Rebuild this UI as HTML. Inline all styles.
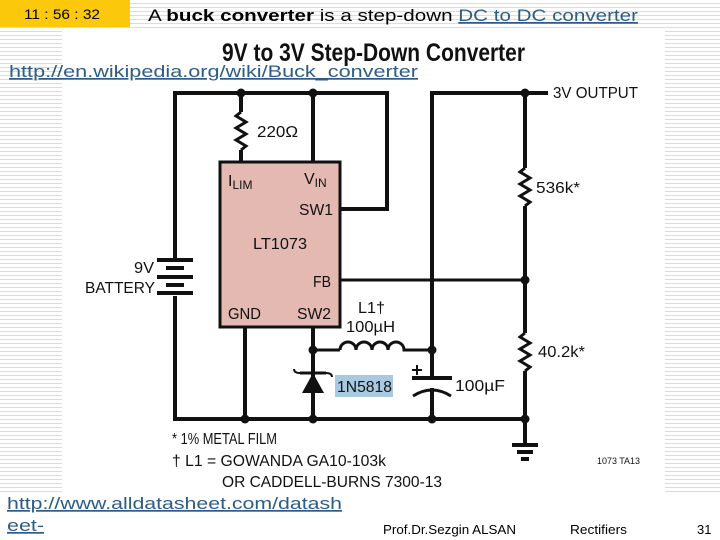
<!DOCTYPE html>
<html><head><meta charset="utf-8"><style>
html,body{margin:0;padding:0}
body{width:720px;height:540px;overflow:hidden;position:relative;background:#fff;font-family:"Liberation Sans",sans-serif}
.lines{position:absolute;left:0;top:0;width:720px;height:540px;background:repeating-linear-gradient(to bottom,#fff 0,#fff 3px,#dcdcdc 3px,#dcdcdc 4px)}
.img{position:absolute;left:62px;top:30px;width:603px;height:465px;background:#fff}
svg{position:absolute;left:0;top:0}
</style></head><body>
<div class="lines"></div>
<div class="img"></div>
<div style="position:absolute;left:0;top:0;width:130px;height:27px;background:#fcc80c"></div>
<div style="position:absolute;left:0;top:492px;width:720px;height:48px;background:#fff"></div>
<svg width="720" height="540" viewBox="0 0 720 540">
<g font-family="Liberation Sans, sans-serif" lengthAdjust="spacingAndGlyphs">
<text x="24" y="19" font-size="14" textLength="76" lengthAdjust="spacingAndGlyphs">11  : 56 : 32</text>
<text x="148" y="21" font-size="17" textLength="490" lengthAdjust="spacingAndGlyphs">A <tspan font-weight="bold">buck converter</tspan> is a step-down <tspan fill="#2c5c88" text-decoration="underline">DC to DC converter</tspan></text>
<text x="9" y="77" font-size="17" fill="#2c5c88" text-decoration="underline" textLength="409" lengthAdjust="spacingAndGlyphs">http://en.wikipedia.org/wiki/Buck_converter</text>
<text x="7" y="509" font-size="17" fill="#2c5c88" text-decoration="underline" textLength="335" lengthAdjust="spacingAndGlyphs">http://www.alldatasheet.com/datash</text>
<text x="7" y="531" font-size="17" fill="#2c5c88" text-decoration="underline" textLength="37" lengthAdjust="spacingAndGlyphs">eet-</text>
<text x="383" y="534" font-size="13" textLength="133" lengthAdjust="spacingAndGlyphs">Prof.Dr.Sezgin ALSAN</text>
<text x="570" y="534" font-size="13" textLength="57" lengthAdjust="spacingAndGlyphs">Rectifiers</text>
<text x="697" y="534" font-size="13">31</text>
</g>
<g font-family="Liberation Sans, sans-serif" fill="#111">
<text x="222" y="61" font-size="25" font-weight="bold" textLength="303" lengthAdjust="spacingAndGlyphs">9V to 3V Step-Down Converter</text>
<text x="553" y="98" font-size="16" textLength="85" lengthAdjust="spacingAndGlyphs">3V OUTPUT</text>
<text x="257" y="137" font-size="16" textLength="41" lengthAdjust="spacingAndGlyphs">220Ω</text>
<text x="536" y="193" font-size="16" textLength="44" lengthAdjust="spacingAndGlyphs">536k*</text>
<text x="538" y="357" font-size="16" textLength="47" lengthAdjust="spacingAndGlyphs">40.2k*</text>
<text x="455" y="391" font-size="16" textLength="50" lengthAdjust="spacingAndGlyphs">100µF</text>
<text x="358" y="313" font-size="16" textLength="27" lengthAdjust="spacingAndGlyphs">L1†</text>
<text x="346" y="332" font-size="16" textLength="49" lengthAdjust="spacingAndGlyphs">100µH</text>
<rect x="335" y="375" width="58" height="22" fill="#a9c9e0"/>
<text x="337" y="392" font-size="16" textLength="55" lengthAdjust="spacingAndGlyphs">1N5818</text>
<text x="134" y="273" font-size="16" textLength="20" lengthAdjust="spacingAndGlyphs">9V</text>
<text x="85" y="293" font-size="16" textLength="70" lengthAdjust="spacingAndGlyphs">BATTERY</text>
<text x="172" y="444" font-size="16" textLength="105" lengthAdjust="spacingAndGlyphs">* 1% METAL FILM</text>
<text x="172" y="466" font-size="16" textLength="214" lengthAdjust="spacingAndGlyphs">† L1 = GOWANDA GA10-103k</text>
<text x="222" y="487" font-size="16" textLength="220" lengthAdjust="spacingAndGlyphs">OR CADDELL-BURNS 7300-13</text>
<text x="597" y="464" font-size="9" textLength="43" lengthAdjust="spacingAndGlyphs">1073 TA13</text>
</g>
<rect x="220" y="162" width="120" height="165" fill="#e3b9b2" stroke="#111" stroke-width="3"/>
<g font-family="Liberation Sans, sans-serif" fill="#111" font-size="16">
<text x="228" y="186">I<tspan font-size="12" dy="3">LIM</tspan></text>
<text x="304" y="184">V<tspan font-size="12" dy="3">IN</tspan></text>
<text x="299" y="215" textLength="34" lengthAdjust="spacingAndGlyphs">SW1</text>
<text x="253" y="249" textLength="54" lengthAdjust="spacingAndGlyphs">LT1073</text>
<text x="313" y="287" textLength="18" lengthAdjust="spacingAndGlyphs">FB</text>
<text x="228" y="319" textLength="33" lengthAdjust="spacingAndGlyphs">GND</text>
<text x="297" y="319" textLength="34" lengthAdjust="spacingAndGlyphs">SW2</text>
</g>
<g stroke="#111" stroke-width="4" fill="none">
<polyline points="175,258 175,93 387,93 387,209 340,209"/>
<line x1="241" y1="93" x2="241" y2="112"/>
<polyline stroke-width="3" points="241,112 236,116 246,122 236,128 246,134 236,140 246,146 241,150"/>
<line x1="241" y1="150" x2="241" y2="162"/>
<line x1="313" y1="93" x2="313" y2="162"/>
<line x1="340" y1="280" x2="525" y2="280" stroke-width="3"/>
<polyline points="432,350 432,93 548,93"/>
<line x1="525" y1="93" x2="525" y2="168"/>
<polyline stroke-width="3" points="525,168 520,172 530,178 520,184 530,190 520,196 530,202 525,206"/>
<line x1="525" y1="206" x2="525" y2="333"/>
<polyline stroke-width="3" points="525,333 520,337 530,343 520,349 530,355 520,361 530,367 525,371"/>
<line x1="525" y1="371" x2="525" y2="444"/>
<polyline points="175,296 175,419 525,419"/>
<line x1="245" y1="327" x2="245" y2="419"/>
<line x1="313" y1="327" x2="313" y2="419"/>
<line x1="313" y1="350" x2="340" y2="350" stroke-width="3"/>
<path stroke-width="3" d="M340,350 a8,8 0 0 1 16,0 a8,8 0 0 1 16,0 a8,8 0 0 1 16,0 a8,8 0 0 1 16,0 L432,350"/>
<line x1="432" y1="350" x2="432" y2="377"/>
<line x1="412" y1="378" x2="452" y2="378"/>
<path stroke-width="3" d="M413,396 Q432,384 451,396"/>
<line x1="432" y1="388" x2="432" y2="419"/>
<line x1="157" y1="260" x2="193" y2="260"/>
<line x1="166" y1="268" x2="184" y2="268"/>
<line x1="157" y1="277" x2="193" y2="277"/>
<line x1="166" y1="285" x2="184" y2="285"/>
<line x1="157" y1="293" x2="193" y2="293"/>
<line x1="512" y1="445" x2="538" y2="445"/>
<line x1="517" y1="452" x2="533" y2="452"/>
<line x1="521" y1="459" x2="529" y2="459"/>
<line x1="300" y1="373" x2="326" y2="373" stroke-width="3"/>
<path stroke-width="2" d="M300,373 q-6,0 -6,-4 M326,373 q6,0 6,4"/>
<line x1="417" y1="365" x2="417" y2="375" stroke-width="2"/>
<line x1="412" y1="370" x2="422" y2="370" stroke-width="2"/>
</g>
<polygon points="313,373 302,393 324,393" fill="#111"/>
<g fill="#111">
<circle cx="241" cy="93" r="4.5"/><circle cx="313" cy="93" r="4.5"/><circle cx="525" cy="93" r="4.5"/>
<circle cx="525" cy="280" r="4.5"/><circle cx="313" cy="350" r="4.5"/><circle cx="432" cy="350" r="4.5"/>
<circle cx="245" cy="419" r="4.5"/><circle cx="313" cy="419" r="4.5"/><circle cx="432" cy="419" r="4.5"/><circle cx="525" cy="419" r="4.5"/>
</g>
</svg>
</body></html>
